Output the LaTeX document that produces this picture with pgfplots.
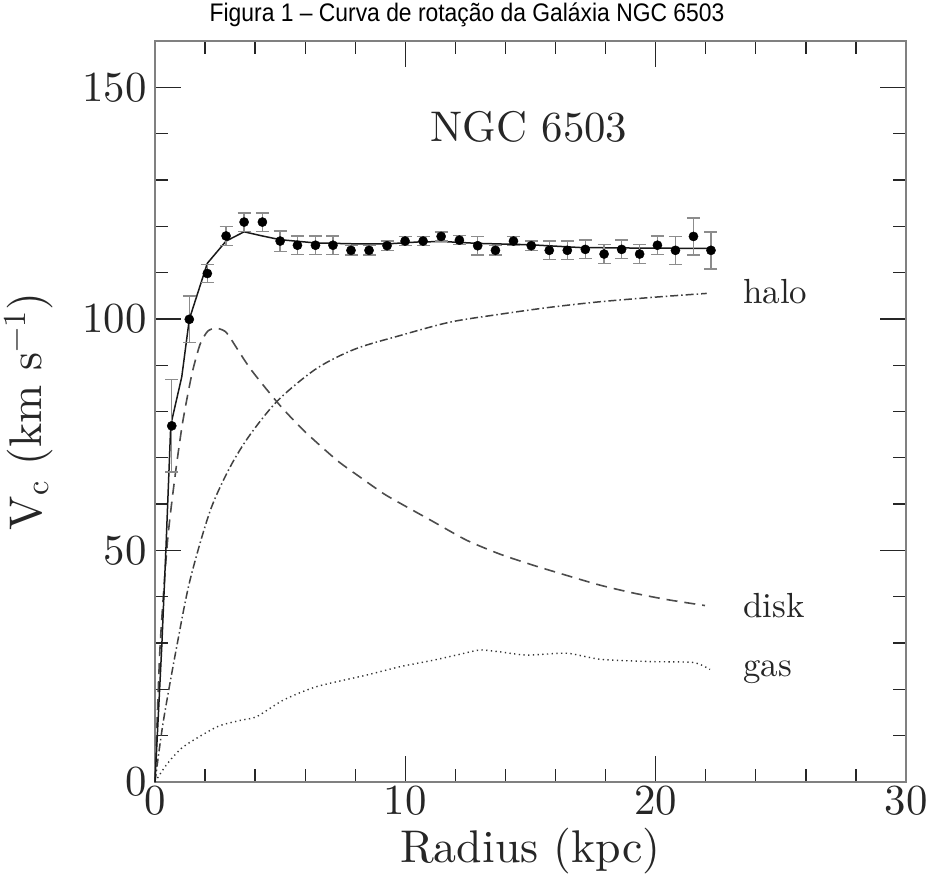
\RequirePackage{fix-cm}
\documentclass[border=0pt]{standalone}
\usepackage{fontspec}
\setmainfont{lmroman10-regular}[Extension=.otf]
\usepackage{pgfplots}
\usepackage{pgfplotstable}
\pgfplotsset{compat=1.18}
\newfontfamily\titlefont[FakeStretch=0.9]{Liberation Sans}

\pgfplotstableread{
r v e
0.67 76.9 10
1.37 99.9 5
2.09 109.8 2
2.84 117.9 2
3.56 120.9 2
4.29 120.9 2
5.00 116.8 2.2
5.69 115.9 2
6.41 115.9 2
7.11 115.9 2
7.83 114.8 1
8.55 114.8 1
9.27 115.8 1
9.99 116.8 1
10.71 116.8 1
11.43 117.8 1
12.16 117.0 1
12.89 115.8 2
13.60 114.8 1
14.32 116.8 1
15.03 115.8 1
15.75 114.8 2
16.47 114.8 2
17.19 115.0 2
17.94 114.0 2
18.64 115.0 2
19.36 114.0 2
20.07 115.9 2
20.79 114.8 3
21.51 117.8 4
22.21 114.8 4
}\obs

\pgfplotstableread{
r v
0 0
0.27 29.2
0.44 50.8
0.63 77.1
1.07 87.5
1.37 99.9
2.09 112.0
2.84 116.8
3.56 118.8
4.29 117.9
5.00 117.1
6.4 116.4
8.0 116.2
9.3 116.2
10.5 116.6
11.5 116.7
12.9 116.3
15.0 116.0
17.0 115.4
19.0 115.3
22.2 115.2
}\total

\pgfplotstableread{
r v
0 0
0.2 29
0.5 52
0.8 66
1.1 77.5
1.47 88
1.8 94.5
2.1 97.3
2.4 98
2.7 97.6
2.93 96.5
3.80 89.3
4.93 81.7
5.92 76.0
7.26 69.5
8.2 65.8
9.12 62.3
9.79 60.2
11.12 56.2
12.45 52.2
13.78 49.2
15.11 46.8
16.45 44.6
17.78 42.5
19.11 40.8
20.44 39.4
21.97 38.1
}\disk

\pgfplotstableread{
r v
0 0
0.33 13
0.87 29.3
1.40 43.6
2.20 58.5
3.00 68
3.80 75
4.93 82.5
6.46 89.3
8.0 93.5
9.79 96.4
11.79 99.3
13.78 101
15.78 102.5
17.78 103.7
20.0 104.7
22.04 105.5
}\halo

\pgfplotstableread{
r v
0 0
0.47 3.8
1.13 7.6
2.47 11.9
3.4 13.3
4.06 14.1
5.13 17.7
6.46 20.6
8.46 23.1
9.79 24.9
11.12 26.3
12.2 27.6
12.98 28.5
13.78 28.1
14.85 27.4
16.45 27.8
17.78 26.5
19.78 26.0
21.51 25.8
22.17 24.3
}\gas

\begin{document}
\begin{tikzpicture}
\begin{axis}[
  scale only axis, width=751bp, height=741bp,
  xmin=0, xmax=30, ymin=0, ymax=160,
  xtick={0,10,20,30}, ytick={0,50,100,150},
  minor xtick={2,4,6,8,12,14,16,18,22,24,26,28},
  minor ytick={10,20,30,40,60,70,80,90,110,120,130,140},
  tick align=inside,
  major tick length=26bp, minor tick length=13bp,
  xtick pos=both, ytick pos=both,
  axis line style={black!50, line width=2.2bp},
  every tick/.style={black!85, line width=1.3bp},
  /pgf/number format/assume math mode=true,
  tick label style={font=\fontsize{43}{43}\selectfont, text=black!85},
  yticklabel style={xshift=-5bp},
  xlabel={Radius (kpc)},
  ylabel={V\textsubscript{c} (km s\textsuperscript{−1})},
  label style={font=\fontsize{46}{46}\selectfont, text=black!85},
  xlabel style={at={(axis description cs:0.5,-0.108)}, anchor=base},
  ylabel style={at={(axis description cs:-0.1505,0.5)}, anchor=base},
  clip=false,
]
\addplot[black!80, line width=1.4bp, dash pattern=on 1.3bp off 3.4bp, smooth, tension=0.4] table[x=r,y=v] {\gas};
\addplot[black!75, line width=1.5bp, dash pattern=on 8bp off 3bp on 1.5bp off 3bp, smooth, tension=0.5] table[x=r,y=v] {\halo};
\addplot[black!70, line width=1.6bp, dash pattern=on 11bp off 7bp, smooth, tension=0.4] table[x=r,y=v] {\disk};
\addplot[black!90, line width=1.5bp] table[x=r,y=v] {\total};
\addplot[only marks, mark=*, mark size=4.6bp, black,
  error bars/.cd, y dir=both, y explicit,
  error bar style={black!45, line width=1.4bp},
  error mark options={rotate=90, mark size=6.5bp, black!45, line width=1.4bp}]
  table[x=r, y=v, y error=e] {\obs};
\node[anchor=base, text=black!85, font=\fontsize{43}{43}\selectfont] at (axis cs:14.94,138.2) {NGC 6503};
\node[anchor=base west, inner sep=0pt, text=black!85, font=\fontsize{35}{35}\selectfont] at (axis cs:23.49,103.3) {halo};
\node[anchor=base west, inner sep=0pt, text=black!85, font=\fontsize{35}{35}\selectfont] at (axis cs:23.49,35.5) {disk};
\node[anchor=base west, inner sep=0pt, text=black!85, font=\fontsize{35}{35}\selectfont] at (axis cs:23.49,22.7) {gas};
\node[anchor=base, inner sep=0pt, font=\titlefont\fontsize{25.5}{25.5}\selectfont] at ([yshift=19bp]rel axis cs:0.4155,1) {Figura 1 – Curva de rotação da Galáxia NGC 6503};
\end{axis}
\pgfresetboundingbox
\path (current axis.south west) ++(-155bp,-92bp) rectangle ++(932bp,874bp);
\end{tikzpicture}
\end{document}
